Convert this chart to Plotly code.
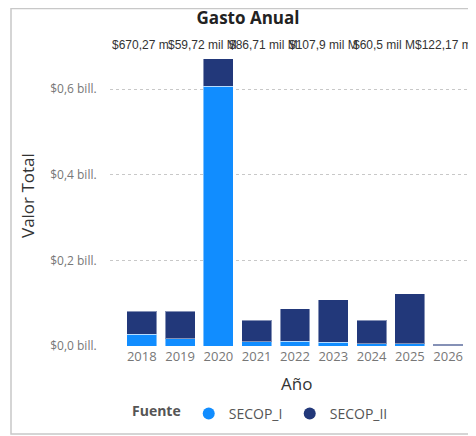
import plotly.graph_objects as go
import numpy as np

# ---- data (values in "mil M" = 10^9 pesos) ----
years = [2018, 2019, 2020, 2021, 2022, 2023, 2024, 2025, 2026]
secop_i = [28.0, 17.0, 607.0, 10.0, 11.6, 8.6, 5.0, 5.0, 0.8]
secop_ii = [52.7, 63.7, 63.27, 49.72, 75.11, 99.3, 55.5, 117.17, 3.2]
total_labels = ["$670,27 m.", "$59,72 mil M", "$86,71 mil M",
                "$107,9 mil M", "$60,5 mil M", "$122,17 m."]
y_tickvals = [0.0, 0.2, 0.4, 0.6]
y_ticktext = ["$0,0 bill.", "$0,2 bill.", "$0,4 bill.", "$0,6 bill."]

C_I = "#118DFF"
C_II = "#22387A"
FONT = "Segoe UI, Open Sans, sans-serif"
LFONT = "Liberation Sans, Arial, sans-serif"

OFF = 8  # page body margin
W, H = 476 - OFF, 436 - OFF
L = 110 - OFF
R = W - (470 - OFF)
T = 55 - OFF
B = H - (347 - OFF)
plot_w = W - L - R
plot_h = H - T - B


def px_x(px):
    return (px - OFF - L) / plot_w


def px_y(py):
    return (H - B - (py - OFF)) / plot_h


to_bill = lambda arr: [v / 1000.0 for v in arr]

fig = go.Figure()
fig.add_bar(x=years, y=to_bill(secop_i), name="SECOP_I", marker_color=C_I,
            marker_line=dict(color="rgba(255,255,255,0.45)", width=1),
            width=0.78, showlegend=False)
fig.add_bar(x=years, y=to_bill(secop_ii), name="SECOP_II", marker_color=C_II,
            marker_line=dict(color="rgba(255,255,255,0.45)", width=1),
            width=0.78, showlegend=False)
# legend entries with circle symbols
fig.add_scatter(x=[None], y=[None], mode="markers", name="SECOP_I",
                marker=dict(color=C_I, size=12, symbol="circle"))
fig.add_scatter(x=[None], y=[None], mode="markers", name="SECOP_II",
                marker=dict(color=C_II, size=12, symbol="circle"))

# total labels spread evenly across the category range
label_x = np.linspace(years[0], years[-1] - 0.08, len(total_labels))
annotations = []
for xv, t in zip(label_x, total_labels):
    annotations.append(dict(x=float(xv), xref="x", y=px_y(45), yref="paper",
                            xanchor="center", yanchor="middle",
                            text=t, showarrow=False,
                            font=dict(family=LFONT, size=12, color="#333333")))
annotations.append(dict(x=px_x(27), xref="paper", y=px_y(196), yref="paper",
                        xanchor="center", yanchor="middle",
                        text="Valor Total", textangle=-90, showarrow=False,
                        font=dict(family=FONT, size=17, color="#333333")))
annotations.append(dict(x=px_x(296), xref="paper", y=px_y(383), yref="paper",
                        xanchor="center", yanchor="middle",
                        text="Año", showarrow=False,
                        font=dict(family=FONT, size=17, color="#333333")))

fig.update_layout(
    width=W, height=H,
    margin=dict(l=L, r=R, t=T, b=B),
    barmode="stack",
    plot_bgcolor="white", paper_bgcolor="white",
    font=dict(family=FONT, color="#666666"),
    title=dict(text="<b>Gasto Anual</b>", x=(248 - OFF) / W, xref="container",
               xanchor="center", y=1 - (18 - OFF) / H, yref="container",
               yanchor="middle",
               font=dict(family=FONT, size=17, color="#222222")),
    xaxis=dict(range=[2017.17, 2026.57], tickvals=years,
               ticktext=[str(y) for y in years], showgrid=False,
               zeroline=False, showline=False,
               tickfont=dict(family=FONT, size=13, color="#777777")),
    yaxis=dict(range=[-0.0023, 0.6794], tickvals=y_tickvals,
               ticktext=y_ticktext, showgrid=True, gridcolor="#c8c8c8",
               griddash="dot", gridwidth=1, zeroline=False, showline=False,
               ticks="outside", ticklen=10, tickcolor="rgba(0,0,0,0)",
               tickfont=dict(family=FONT, size=12, color="#777777")),
    legend=dict(orientation="h", x=px_x(130), xanchor="left",
                y=px_y(414), yanchor="middle", traceorder="normal",
                title=dict(text="<b>Fuente</b>",
                           font=dict(family=FONT, size=14, color="#555555")),
                font=dict(family=FONT, size=14, color="#555555"),
                itemwidth=30, entrywidth=56, entrywidthmode="pixels",
                tracegroupgap=0),
    annotations=annotations,
    shapes=[dict(type="rect", xref="paper", yref="paper",
                 x0=px_x(11), x1=px_x(490), y0=px_y(434), y1=px_y(8.5),
                 line=dict(color="#c8c8c8", width=1.5), layer="below")],
)

fig.write_html("out.html")
